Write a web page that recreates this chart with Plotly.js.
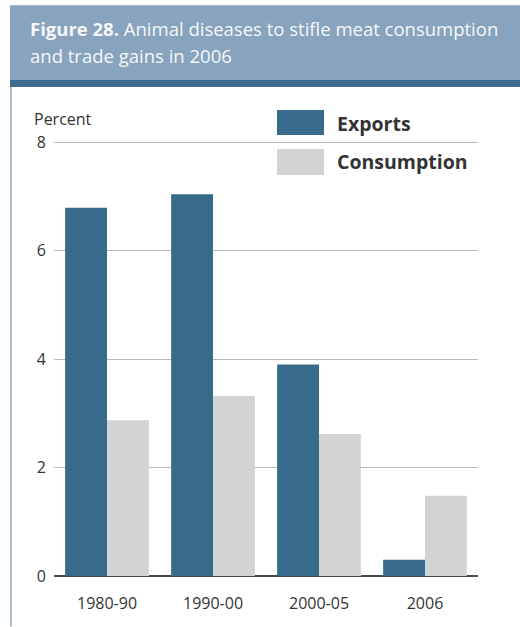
<!DOCTYPE html>
<html>
<head>
<meta charset="utf-8">
<script src="https://cdn.plot.ly/plotly-3.0.1.min.js"></script>
<style>
html,body{margin:0;padding:0;background:#ffffff;}
#chart{width:520px;height:627px;}
</style>
</head>
<body>
<div id="chart"></div>
<script>
// ---- data ----
const categories = ["1980-90", "1990-00", "2000-05", "2006"];
const seriesNames = ["Exports", "Consumption"];
const exportsValues = [6.79, 7.04, 3.90, 0.30];
const consumptionValues = [2.87, 3.32, 2.62, 1.48];
const yTickValues = [0, 2, 4, 6, 8];
const yTickLabels = ["0", "2", "4", "6", "8"];
const titleBold = "Figure 28.";
const titleLine1 = " Animal diseases to stifle meat consumption";
const titleLine2 = "and trade gains in 2006";
const yAxisLabel = "Percent";

// ---- layout geometry ----
const W = 520, H = 627, L = 54, R = 42, T = 141, B = 50.5;
const plotW = W - L - R, plotH = H - T - B;
const px = v => (v - L) / plotW;
const py = v => (H - B - v) / plotH;

const exportColor = "#376a8b";
const consColor = "#d1d3d5";
const fontFam = "'Open Sans', 'Noto Sans', sans-serif";
const titleColor = "#f5f7f9";

const traces = [
  {type: "bar", name: seriesNames[0], x: categories, y: exportsValues,
   marker: {color: exportColor}, hoverinfo: "none"},
  {type: "bar", name: seriesNames[1], x: categories, y: consumptionValues,
   marker: {color: consColor}, hoverinfo: "none"}
];

const shapes = [
  {type: "rect", xref: "paper", yref: "paper", x0: px(10), x1: px(520), y0: py(5), y1: py(81),
   fillcolor: "#87a3bd", line: {width: 0}, layer: "below"},
  {type: "rect", xref: "paper", yref: "paper", x0: px(10), x1: px(520), y0: py(80), y1: py(87),
   fillcolor: "#3e6c8e", line: {width: 0}, layer: "below"},
  {type: "line", xref: "paper", yref: "paper", x0: px(11), x1: px(11), y0: py(87), y1: py(627),
   line: {color: "#a9c0d3", width: 2}, layer: "below"},
  {type: "rect", xref: "paper", yref: "paper", x0: px(277), x1: px(324), y0: py(110), y1: py(135),
   fillcolor: exportColor, line: {width: 0}},
  {type: "rect", xref: "paper", yref: "paper", x0: px(277), x1: px(324), y0: py(149), y1: py(175),
   fillcolor: consColor, line: {width: 0}}
];

const annotations = [
  {xref: "paper", yref: "paper", x: px(28), y: py(28), xanchor: "left", yanchor: "middle", align: "left",
   showarrow: false, text: "<b>" + titleBold + "</b>" + titleLine1,
   font: {family: fontFam, size: 18.5, color: titleColor}},
  {xref: "paper", yref: "paper", x: px(28), y: py(55), xanchor: "left", yanchor: "middle", align: "left",
   showarrow: false, text: titleLine2,
   font: {family: fontFam, size: 18.5, color: titleColor}},
  {xref: "paper", yref: "paper", x: px(32), y: py(119), xanchor: "left", yanchor: "middle",
   showarrow: false, text: yAxisLabel, font: {family: fontFam, size: 16, color: "#333333"}},
  {xref: "paper", yref: "paper", x: px(335), y: py(123), xanchor: "left", yanchor: "middle",
   showarrow: false, text: "<b>" + seriesNames[0] + "</b>", font: {family: fontFam, size: 19.5, color: "#333333"}},
  {xref: "paper", yref: "paper", x: px(335), y: py(162), xanchor: "left", yanchor: "middle",
   showarrow: false, text: "<b>" + seriesNames[1] + "</b>", font: {family: fontFam, size: 19.5, color: "#333333"}}
];

const layout = {
  width: W, height: H,
  margin: {l: L, r: R, t: T, b: B, pad: 0},
  paper_bgcolor: "#ffffff",
  plot_bgcolor: "rgba(0,0,0,0)",
  barmode: "group",
  bargap: 0.21,
  bargroupgap: 0,
  showlegend: false,
  font: {family: fontFam, size: 16, color: "#333333"},
  xaxis: {
    type: "category", range: [-0.5, 3.5], showgrid: false, showline: false, zeroline: false,
    ticks: "", tickfont: {family: fontFam, size: 16, color: "#333333"}, ticklabelstandoff: 16,
    fixedrange: true
  },
  yaxis: {
    range: [0, 8.02], tickvals: yTickValues, ticktext: yTickLabels,
    showgrid: true, gridcolor: "#b6b8ba", gridwidth: 1,
    zeroline: true, zerolinecolor: "#4a4a4a", zerolinewidth: 2,
    showline: false, ticks: "", ticklabelstandoff: 7,
    tickfont: {family: fontFam, size: 16, color: "#333333"},
    fixedrange: true
  },
  shapes: shapes,
  annotations: annotations
};

Plotly.newPlot("chart", traces, layout, {displayModeBar: false, staticPlot: true});
</script>
</body>
</html>
